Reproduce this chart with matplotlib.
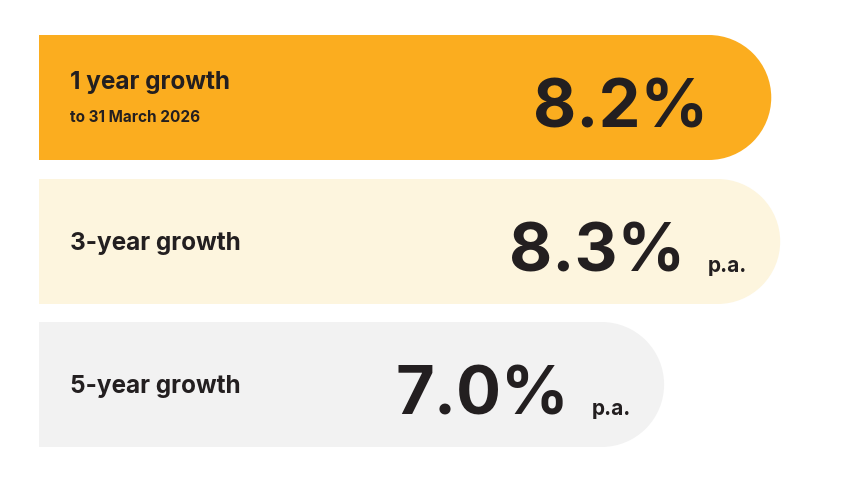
import matplotlib
matplotlib.use("Agg")
import matplotlib.pyplot as plt
from matplotlib.patches import Rectangle, Wedge

labels = ["1 year growth", "3-year growth", "5-year growth"]
sublabels = ["to 31 March 2026", "", ""]
values = [8.2, 8.3, 7.0]
suffixes = ["", "p.a.", "p.a."]
colors = ["#FBAD1F", "#FDF5DE", "#F2F2F2"]
txt = "#231F20"

fig = plt.figure(figsize=(8.53, 5.02), dpi=100)
ax = fig.add_axes([0, 0, 1, 1])
ax.set_xlim(0, 853); ax.set_ylim(502, 0); ax.axis("off")
ax.set_aspect("equal")

x0, k, h, r = 39, 89.3, 125, 62.5
tops = [36, 180, 323]
for lab, sub, v, suf, c, top in zip(labels, sublabels, values, suffixes, colors, tops):
    end = x0 + v * k
    ax.add_patch(Rectangle((x0, top), end - r - x0, h, color=c, lw=0))
    ax.add_patch(Wedge((end - r, top + h / 2), r, -90, 90, color=c, lw=0))
    mid = top + h / 2
    if sub:
        ax.text(70, mid - 9, lab, fontsize=17.5, fontweight="bold", family="Inter", color=txt, va="baseline")
        ax.text(70, mid + 23, sub, fontsize=11, fontweight="bold", family="Inter", color=txt, va="baseline")
    else:
        ax.text(70, mid + 8, lab, fontsize=17.5, fontweight="bold", family="Inter", color=txt, va="baseline")
    if suf:
        ax.text(end - 33, mid + 30, suf, fontsize=15, fontweight="bold", family="Inter", color=txt, ha="right", va="baseline")
        ax.text(end - 95, mid + 29, f"{v:.1f}%", fontsize=48, fontweight="bold", family="Inter", color=txt, ha="right", va="baseline")
    else:
        ax.text(end - 63, mid + 29, f"{v:.1f}%", fontsize=48, fontweight="bold", family="Inter", color=txt, ha="right", va="baseline")

fig.savefig("out.png", dpi=100)
